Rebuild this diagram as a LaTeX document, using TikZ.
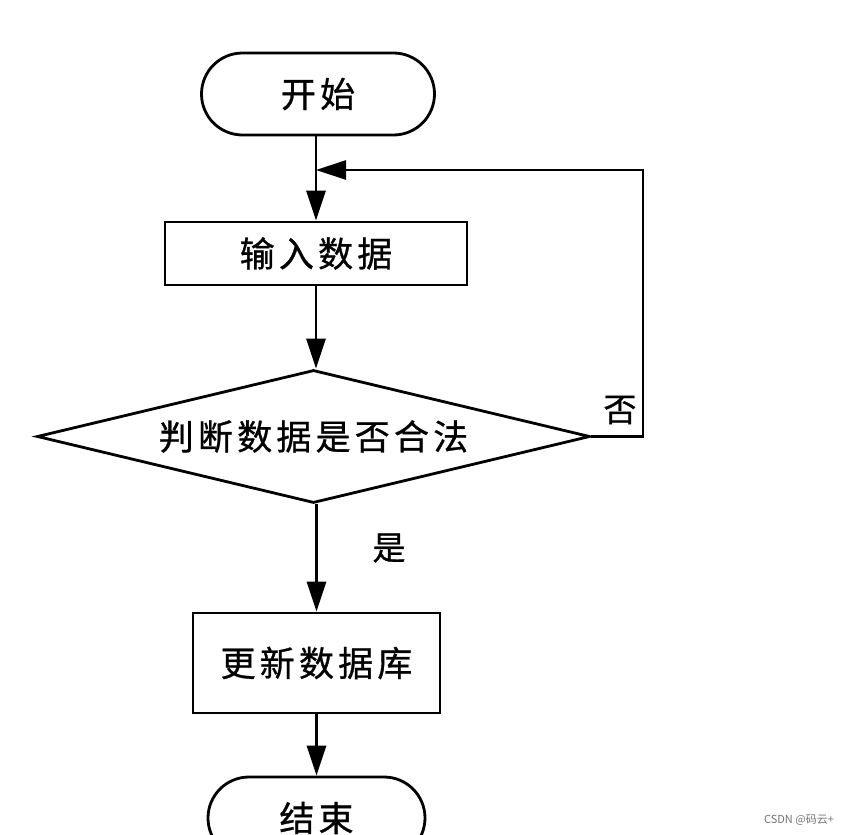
\documentclass[tikz,border=0pt]{standalone}
\usepackage{fontspec}
\setmainfont{Noto Sans CJK SC}[LetterSpace=12,FakeBold=0.8]
\newfontfamily\wmfont{Noto Sans CJK SC}
\usetikzlibrary{shapes.geometric,shapes.misc,arrows.meta}
\begin{document}
\begin{tikzpicture}[x=1pt,y=1pt,
  line width=2.8pt,
  every node/.style={font=\fontsize{35}{38}\selectfont, inner sep=0pt},
  pill/.style={draw, rounded rectangle, minimum width=233pt, minimum height=82pt},
  procbox/.style={draw, rectangle},
  decision/.style={draw, diamond, aspect=4.16, minimum width=553pt, minimum height=133pt},
  flow/.style={-{Triangle[length=30pt,width=19pt]}},
  lbl/.style={font=\fontsize{33}{35}\selectfont}]
\useasboundingbox (0,0) rectangle (855,-835);
\clip (0,0) rectangle (855,-835);
\node[pill] (start) at (318,-94) {开始};
\node[procbox, minimum width=302pt, minimum height=63pt] (input) at (316,-253.5) {输入数据};
\node[decision] (check) at (313.5,-436.5) {判断数据是否合法};
\node[procbox, minimum width=247pt, minimum height=100pt] (update) at (316.5,-663) {更新数据库};
\node[pill, minimum width=217pt] (stop) at (316.5,-818) {结束};
\coordinate (corner1) at (643,-436.5);
\coordinate (corner2) at (643,-170);
\coordinate (join) at (316,-170);
\draw[flow] (start.south -| input.north) -- (input.north);
\draw[flow] (input.south) -- (input.south |- check.north);
\draw[flow] (check.south -| update.north) -- (update.north);
\draw[flow] (update.south) -- (stop.north);
\draw[flow] (check.east) -- (corner1) -- (corner2) -- (join);
\node[lbl] (no) at (620,-410) {否};
\node[lbl] (yes) at (389,-548) {是};
\node[font=\wmfont\fontsize{11}{12}\selectfont, text=black!55] (wm) at (799,-820) {CSDN @码云+};
\end{tikzpicture}
\end{document}
